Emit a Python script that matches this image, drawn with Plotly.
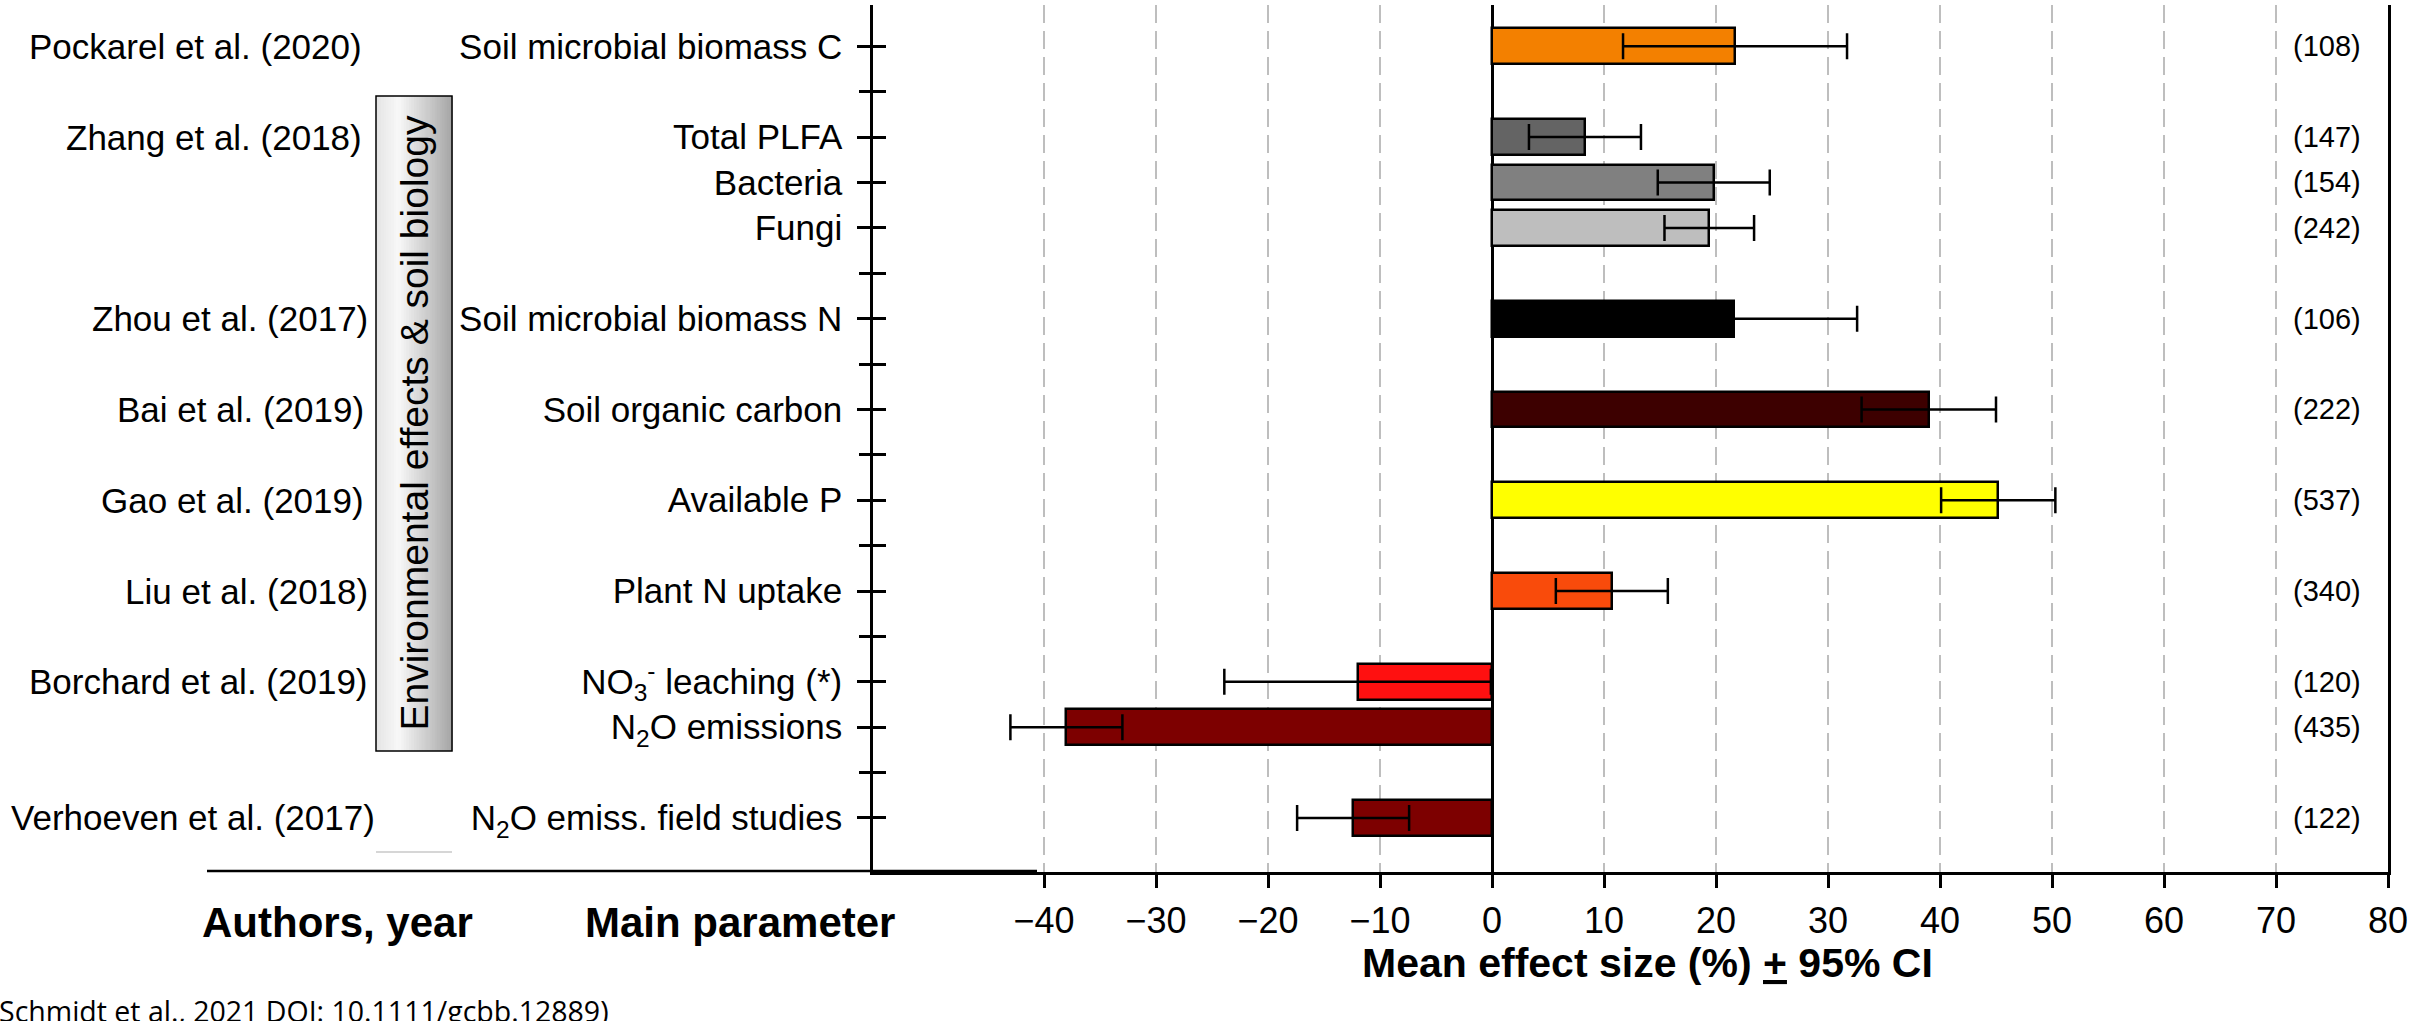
import plotly.graph_objects as go

# ---------------- data ----------------
parameters = ["Soil microbial biomass C", "Total PLFA", "Bacteria", "Fungi",
              "Soil microbial biomass N", "Soil organic carbon", "Available P",
              "Plant N uptake", "NO<sub>3</sub><sup>-</sup> leaching (*)",
              "N<sub>2</sub>O emissions", "N<sub>2</sub>O emiss. field studies"]
row_positions = [0, 2, 3, 4, 6, 8, 10, 12, 14, 15, 17]
mean_effect = [21.7, 8.3, 19.8, 19.4, 21.6, 39.0, 45.2, 10.7, -12.0, -38.0, -12.4]
ci_half = [10.0, 5.0, 5.0, 4.0, 11.0, 6.0, 5.1, 5.0, 11.9, 5.0, 5.0]
n_obs = ["(108)", "(147)", "(154)", "(242)", "(106)", "(222)", "(537)",
         "(340)", "(120)", "(435)", "(122)"]
authors = ["Pockarel et al. (2020)", "Zhang et al. (2018)", "Zhou et al. (2017)",
           "Bai et al. (2019)", "Gao et al. (2019)", "Liu et al. (2018)",
           "Borchard et al. (2019)", "Verhoeven et al. (2017)"]
author_rows = [0, 2, 6, 8, 10, 12, 14, 17]
x_ticks = [-40, -30, -20, -10, 0, 10, 20, 30, 40, 50, 60, 70, 80]
all_rows = list(range(18))

bar_colors = ["#F38000", "#646464", "#808080", "#BEBEBE", "#000000", "#3D0000",
              "#FFFF00", "#F94B0B", "#FF1010", "#7D0000", "#7D0000"]
# right edge (in pixels) of each author label, as laid out in the original
author_right_px = [364, 364, 370, 366, 366, 370, 370, 377]

FONT = "Liberation Sans, Arial, sans-serif"

# ---------------- geometry helpers (pixel -> paper) ----------------
W, H = 2420, 1021
ML, MR, MT, MB = 873, 32, 5, 149
PW, PH = W - ML - MR, H - MT - MB


def px(xp):
    return (xp - ML) / PW


def py(yp):
    return (H - MB - yp) / PH


fig = go.Figure()

fig.add_trace(go.Bar(
    y=row_positions, x=mean_effect, orientation="h", width=0.79,
    marker=dict(color=bar_colors, line=dict(color="black", width=2.5)),
    error_x=dict(type="data", array=ci_half, visible=True, color="black",
                 thickness=2.5, width=13),
    showlegend=False, hoverinfo="x+y",
))

# invisible traces on the tick-only overlay axes so they are rendered
for ax in ["y2", "y3"]:
    fig.add_trace(go.Scatter(x=[0], y=[0], yaxis=ax, mode="markers",
                             marker=dict(opacity=0), showlegend=False,
                             hoverinfo="skip"))

yrange = [18.19, -0.91]
fig.update_layout(
    width=W, height=H, autosize=False,
    margin=dict(l=ML, r=MR, t=MT, b=MB),
    paper_bgcolor="white", plot_bgcolor="white",
    font=dict(family=FONT, color="black"),
    xaxis=dict(
        range=[(ML - 1492) / 11.2, 80], tickvals=x_ticks,
        ticktext=[("\u2212" + str(abs(v))) if v < 0 else str(v) for v in x_ticks],
        showgrid=True, gridcolor="#BEBEBE", gridwidth=2, griddash="18px,8px",
        zeroline=True, zerolinecolor="black", zerolinewidth=2.5,
        showline=True, linecolor="black", linewidth=2.5, mirror=False,
        ticks="outside", ticklen=13, tickwidth=2.5, tickcolor="black",
        tickfont=dict(size=36, family=FONT), ticklabelstandoff=2,
        automargin=False,
    ),
    yaxis=dict(
        range=yrange, tickvals=row_positions, ticktext=parameters,
        showgrid=False, zeroline=False,
        showline=True, linecolor="black", linewidth=2.5, mirror=True,
        ticks="outside", ticklen=13, tickwidth=2.5, tickcolor="black",
        tickfont=dict(size=35, family=FONT), ticklabelstandoff=8,
        automargin=False,
    ),
    yaxis2=dict(
        overlaying="y", matches="y", anchor="x", side="left",
        tickvals=all_rows, showticklabels=False, showgrid=False,
        zeroline=False, showline=False, automargin=False,
        ticks="inside", ticklen=13, tickwidth=2.5, tickcolor="black",
    ),
    yaxis3=dict(
        overlaying="y", matches="y", anchor="x", side="left",
        tickvals=all_rows, showticklabels=False, showgrid=False,
        zeroline=False, showline=False, automargin=False,
        ticks="outside", ticklen=13, tickwidth=2.5, tickcolor="black",
    ),
    bargap=0,
)

annotations = []
# n labels
for r, t in zip(row_positions, n_obs):
    annotations.append(dict(x=px(2363), y=r, xref="paper", yref="y", text=t,
                            xanchor="right", yanchor="middle", showarrow=False,
                            font=dict(size=29, family=FONT)))
# authors
for r, t, xr in zip(author_rows, authors, author_right_px):
    annotations.append(dict(x=px(xr), y=r, xref="paper", yref="y", text=t,
                            xanchor="right", yanchor="middle", showarrow=False,
                            font=dict(size=35, family=FONT)))
# column headers
annotations.append(dict(x=px(337), y=py(922), xref="paper", yref="paper",
                        text="<b>Authors, year</b>", showarrow=False,
                        xanchor="center", yanchor="middle",
                        font=dict(size=42, family=FONT)))
annotations.append(dict(x=px(740), y=py(922), xref="paper", yref="paper",
                        text="<b>Main parameter</b>", showarrow=False,
                        xanchor="center", yanchor="middle",
                        font=dict(size=42, family=FONT)))
annotations.append(dict(x=px(1647), y=py(963), xref="paper", yref="paper",
                        text="<b>Mean effect size (%) <u>+</u> 95% CI</b>",
                        showarrow=False, xanchor="center", yanchor="middle",
                        font=dict(size=41, family=FONT)))
# rotated group label
annotations.append(dict(x=px(414), y=py(423.5), xref="paper", yref="paper",
                        text="Environmental effects & soil biology",
                        textangle=-90, showarrow=False,
                        xanchor="center", yanchor="middle",
                        font=dict(size=39, family=FONT)))
# source caption (cut at bottom of image, as in the original)
annotations.append(dict(x=px(-3), y=py(990), xref="paper", yref="paper",
                        text="Schmidt et al., 2021 DOI: 10.1111/gcbb.12889)",
                        showarrow=False, xanchor="left", yanchor="top",
                        font=dict(size=28.5, family="Open Sans, Noto Sans, sans-serif")))
fig.update_layout(annotations=annotations)

# gradient-filled box behind the rotated label
shapes = []
bx0, bx1, by0, by1 = 376, 452, 96, 751
n_strips = 30
for i in range(n_strips):
    t = (i + 0.5) / n_strips
    if t < 0.3:
        g = 228 + (248 - 228) * (t / 0.3)
    else:
        g = 248 - (248 - 165) * ((t - 0.3) / 0.7)
    g = int(round(g))
    xa = bx0 + (bx1 - bx0) * i / n_strips
    xb = bx0 + (bx1 - bx0) * (i + 1) / n_strips + 0.6
    shapes.append(dict(type="rect", xref="paper", yref="paper",
                       x0=px(xa), x1=px(xb), y0=py(by1), y1=py(by0),
                       fillcolor=f"rgb({g},{g},{g})", line=dict(width=0),
                       layer="below"))
shapes.append(dict(type="rect", xref="paper", yref="paper",
                   x0=px(bx0), x1=px(bx1), y0=py(by1), y1=py(by0),
                   fillcolor="rgba(0,0,0,0)", line=dict(color="black", width=1.5)))
# faint line under the box
shapes.append(dict(type="line", xref="paper", yref="paper",
                   x0=px(bx0), x1=px(bx1), y0=py(852), y1=py(852),
                   line=dict(color="#C8C8C8", width=1.5)))
# extension of the bottom axis line to the left
shapes.append(dict(type="line", xref="paper", yref="paper",
                   x0=px(207), x1=px(1037), y0=py(871), y1=py(871),
                   line=dict(color="black", width=2.5)))
fig.update_layout(shapes=shapes)

fig.write_html("out.html",
               config={"displayModeBar": False},
               post_script="document.body.style.margin='0px';"
                           "document.body.style.overflow='hidden';")
